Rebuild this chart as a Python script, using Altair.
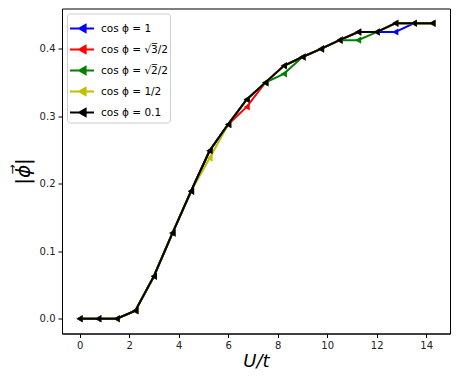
import altair as alt
import pandas as pd

u_t = [0.0, 0.75, 1.5, 2.25, 3.0, 3.75, 4.5, 5.25, 6.0, 6.75,
       7.5, 8.25, 9.0, 9.75, 10.5, 11.25, 12.0, 12.75, 13.5, 14.25]

phi_1 = [0.0, 0.0, 0.0, 0.012, 0.063, 0.127, 0.189, 0.249, 0.288, 0.325,
         0.350, 0.375, 0.388, 0.400, 0.413, 0.425, 0.425, 0.425, 0.438, 0.438]
phi_sqrt3 = [0.0, 0.0, 0.0, 0.012, 0.063, 0.127, 0.189, 0.249, 0.288, 0.314,
             0.350, 0.375, 0.388, 0.400, 0.413, 0.425, 0.425, 0.438, 0.438, 0.438]
phi_sqrt2 = [0.0, 0.0, 0.0, 0.012, 0.063, 0.127, 0.189, 0.249, 0.288, 0.325,
             0.350, 0.363, 0.388, 0.400, 0.413, 0.413, 0.425, 0.438, 0.438, 0.438]
phi_half = [0.0, 0.0, 0.0, 0.012, 0.063, 0.127, 0.189, 0.238, 0.288, 0.325,
            0.350, 0.375, 0.388, 0.400, 0.413, 0.425, 0.425, 0.438, 0.438, 0.438]
phi_01 = [0.0, 0.0, 0.0, 0.012, 0.063, 0.127, 0.189, 0.249, 0.288, 0.325,
          0.350, 0.375, 0.388, 0.400, 0.413, 0.425, 0.425, 0.438, 0.438, 0.438]

labels = ["cos ϕ = 1", "cos ϕ = √3̅/2", "cos ϕ = √2̅/2", "cos ϕ = 1/2", "cos ϕ = 0.1"]
colors = ["#0000ff", "#ff0000", "#008000", "#bfbf00", "#000000"]
series = [phi_1, phi_sqrt3, phi_sqrt2, phi_half, phi_01]

FONT = "DejaVu Sans"

legend = alt.Legend(
    title=None,
    orient="top-left",
    offset=5,
    symbolType="M-1,0L1,0M0.3,-0.3L-0.22,0L0.3,0.3Z",
    symbolSize=576,
    symbolStrokeWidth=2,
    labelFontSize=10.5,
    labelFont=FONT,
    labelOffset=6,
    rowPadding=0,
    padding=2,
    strokeColor="#cccccc",
    fillColor="white",
    cornerRadius=3,
)

color = alt.Color("series:N", scale=alt.Scale(domain=labels, range=colors), legend=legend)
x = alt.X("u:Q", scale=alt.Scale(domain=[-0.7125, 14.9625], nice=False, zero=False),
          axis=alt.Axis(values=[0, 2, 4, 6, 8, 10, 12, 14], title="U/t", format="d"))
y = alt.Y("phi:Q", scale=alt.Scale(domain=[-0.0219, 0.4599], nice=False, zero=False),
          axis=alt.Axis(values=[0.0, 0.1, 0.2, 0.3, 0.4], title="|ϕ⃗|", format=".1f"))

layers = []
for lab, vals in zip(labels, series):
    df = pd.DataFrame({"u": u_t, "phi": vals, "series": lab})
    base = alt.Chart(df).encode(x=x, y=y, color=color)
    layers.append(base.mark_line(strokeWidth=2))
    layers.append(base.mark_point(shape="triangle-left", filled=True, size=50, opacity=1))

chart = alt.layer(*layers).properties(
    width=388, height=325,
    autosize=alt.AutoSizeParams(type="none"),
    padding={"left": 54, "top": 0.5, "right": 1, "bottom": 37},
).configure_view(
    stroke="black", strokeWidth=1
).configure_axis(
    grid=False,
    domainColor="black",
    tickColor="black",
    tickSize=4,
    labelFont=FONT,
    labelFontSize=10,
    labelColor="#222222",
    titleFont=FONT,
    titleFontWeight="normal",
    titleColor="black",
).configure_axisX(
    titleFontSize=18, titleFontStyle="italic", titlePadding=2, labelPadding=3
).configure_axisY(
    titleFontSize=20, titleFontStyle="italic", titlePadding=6, labelPadding=3
)

chart.save("out.html", embed_options={"renderer": "svg", "actions": False})
